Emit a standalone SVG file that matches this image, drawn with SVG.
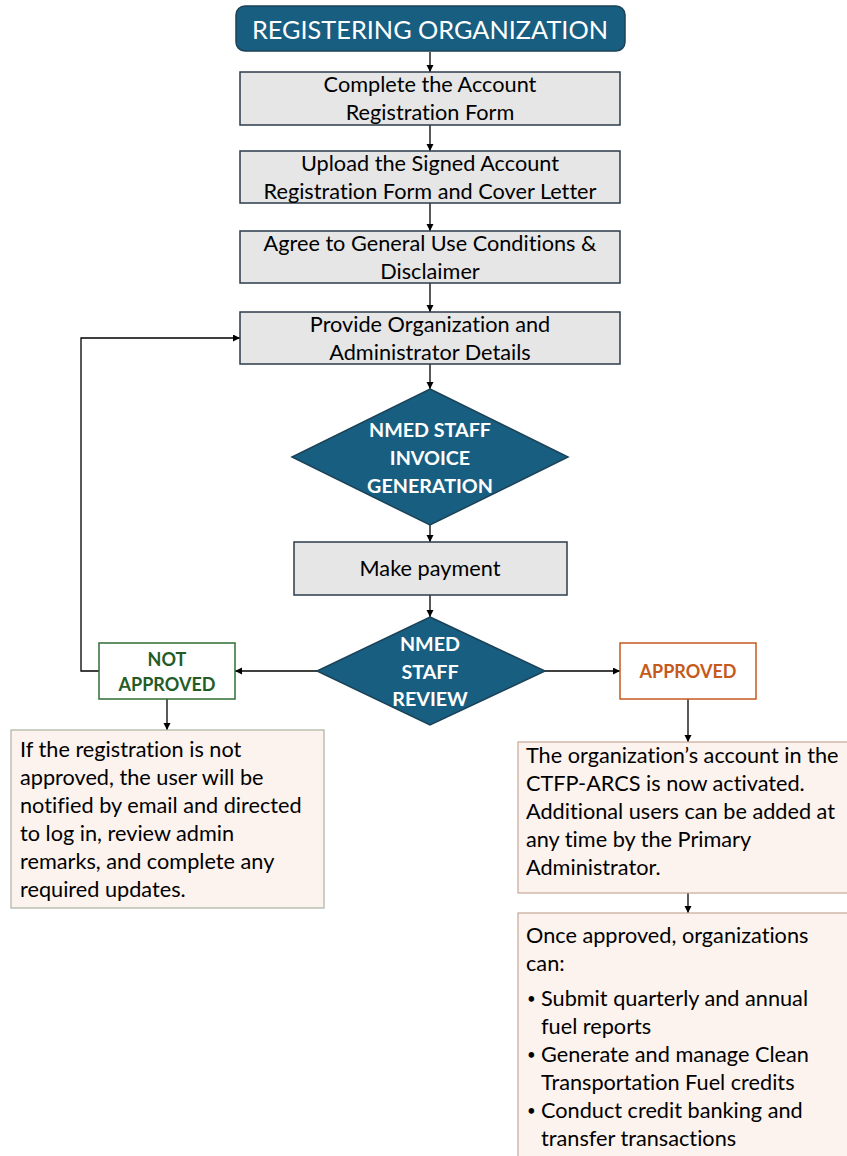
<svg xmlns="http://www.w3.org/2000/svg" width="847" height="1156" viewBox="0 0 847 1156">
<defs>
<marker id="ah" markerUnits="userSpaceOnUse" markerWidth="8" markerHeight="8" refX="7" refY="3.5" orient="auto">
<path d="M0,0 L7,3.5 L0,7 z" fill="#000"/>
</marker>
<style>
text{font-variant-ligatures:none;font-feature-settings:"liga" 0}
.step{fill:#E6E6E6;stroke:#2B3D4C;stroke-width:1.5}
.dark{fill:#185E80;stroke:#1B4257;stroke-width:1.5}
.t{font-family:Lato,"Liberation Sans",sans-serif;font-size:21.7px;fill:#000}
.c{text-anchor:middle}
.b{font-size:15px}
.w{font-family:Lato,"Liberation Sans",sans-serif;font-weight:bold;font-size:19.7px;fill:#fff;text-anchor:middle}
.note{fill:#FCF2EE;stroke-width:1.2}
.conn{stroke:#000;stroke-width:1.3;fill:none;marker-end:url(#ah)}
</style>
</defs>
<g id="connectors">
<line class="conn" x1="430" y1="52" x2="430" y2="72"/>
<line class="conn" x1="430" y1="125" x2="430" y2="151"/>
<line class="conn" x1="430" y1="203" x2="430" y2="231"/>
<line class="conn" x1="430" y1="283" x2="430" y2="312"/>
<line class="conn" x1="430" y1="364" x2="430" y2="389"/>
<line class="conn" x1="430" y1="525" x2="430" y2="542"/>
<line class="conn" x1="430" y1="595" x2="430" y2="617"/>
<line class="conn" x1="317" y1="671" x2="235" y2="671"/>
<line class="conn" x1="545" y1="671" x2="620" y2="671"/>
<polyline class="conn" points="99,671 81,671 81,338 240,338"/>
<line class="conn" x1="167" y1="699" x2="167" y2="730"/>
<line class="conn" x1="688" y1="699" x2="688" y2="742"/>
<line class="conn" x1="688" y1="893" x2="688" y2="913"/>
</g>
<g id="header">
<rect class="dark" x="236" y="6" width="389" height="45" rx="9"/>
<text x="430" y="39" class="w" style="font-weight:normal;font-size:25.3px">REGISTERING ORGANIZATION</text>
</g>
<g id="step1">
<rect class="step" x="240" y="72" width="380" height="53"/>
<text class="t c" x="430" y="92">Complete the Account</text>
<text class="t c" x="430" y="120">Registration Form</text>
</g>
<g id="step2">
<rect class="step" x="240" y="151" width="380" height="52"/>
<text class="t c" x="430" y="171">Upload the Signed Account</text>
<text class="t c" x="430" y="199">Registration Form and Cover Letter</text>
</g>
<g id="step3">
<rect class="step" x="240" y="231" width="380" height="52"/>
<text class="t c" x="430" y="251">Agree to General Use Conditions &amp;</text>
<text class="t c" x="430" y="279">Disclaimer</text>
</g>
<g id="step4">
<rect class="step" x="240" y="312" width="380" height="52"/>
<text class="t c" x="430" y="332">Provide Organization and</text>
<text class="t c" x="430" y="360">Administrator Details</text>
</g>
<g id="invoice">
<polygon class="dark" points="430,389 568,457 430,525 292,457"/>
<text class="w" x="430" y="437">NMED STAFF</text>
<text class="w" x="430" y="465">INVOICE</text>
<text class="w" x="430" y="493">GENERATION</text>
</g>
<g id="payment">
<rect class="step" x="294" y="542" width="273" height="53"/>
<text class="t c" x="430" y="576">Make payment</text>
</g>
<g id="review">
<polygon class="dark" points="430,617 545,671 430,725 317,671"/>
<text class="w" x="430" y="651">NMED</text>
<text class="w" x="430" y="679">STAFF</text>
<text class="w" x="430" y="706">REVIEW</text>
</g>
<g id="not-approved">
<rect x="99" y="643" width="136" height="56" fill="#fff" stroke="#2F6E33" stroke-width="1.5"/>
<text class="w" x="167" y="666" style="fill:#245C26;font-size:18px">NOT</text>
<text class="w" x="167" y="691" style="fill:#245C26;font-size:18px">APPROVED</text>
</g>
<g id="approved">
<rect x="620" y="643" width="136" height="56" fill="#fff" stroke="#C55A1E" stroke-width="1.5"/>
<text class="w" x="688" y="678" style="fill:#C55A1C;font-size:18px">APPROVED</text>
</g>
<g id="not-approved-note">
<rect class="note" x="11" y="730" width="313" height="178" stroke="#A9B49F"/>
<text class="t" x="20" y="757">If the registration is not</text>
<text class="t" x="20" y="785">approved, the user will be</text>
<text class="t" x="20" y="813">notified by email and directed</text>
<text class="t" x="20" y="841">to log in, review admin</text>
<text class="t" x="20" y="869">remarks, and complete any</text>
<text class="t" x="20" y="897">required updates.</text>
</g>
<g id="approved-note">
<rect class="note" x="518" y="742" width="340" height="151" stroke="#C7A796"/>
<text class="t" x="526" y="763">The organization’s account in the</text>
<text class="t" x="526" y="791">CTFP-ARCS is now activated.</text>
<text class="t" x="526" y="819">Additional users can be added at</text>
<text class="t" x="526" y="847">any time by the Primary</text>
<text class="t" x="526" y="875">Administrator.</text>
</g>
<g id="capabilities">
<rect class="note" x="518" y="913" width="340" height="260" stroke="#C7A796"/>
<text class="t" x="526" y="943">Once approved, organizations</text>
<text class="t" x="526" y="971">can:</text>
<text class="t b" x="527" y="1004">•</text>
<text class="t" x="541" y="1006">Submit quarterly and annual</text>
<text class="t" x="541" y="1034">fuel reports</text>
<text class="t b" x="527" y="1060">•</text>
<text class="t" x="541" y="1062">Generate and manage Clean</text>
<text class="t" x="541" y="1090">Transportation Fuel credits</text>
<text class="t b" x="527" y="1116">•</text>
<text class="t" x="541" y="1118">Conduct credit banking and</text>
<text class="t" x="541" y="1146">transfer transactions</text>
</g>
</svg>
